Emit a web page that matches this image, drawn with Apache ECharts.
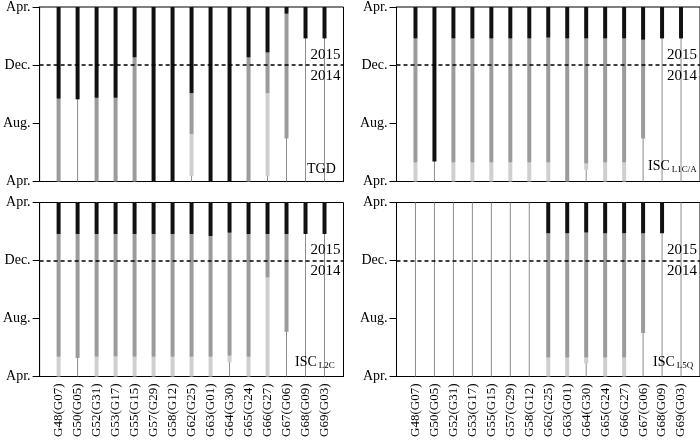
<!DOCTYPE html>
<html><head><meta charset="utf-8">
<script src="https://cdn.jsdelivr.net/npm/echarts@6/dist/echarts.min.js"></script>
<style>html,body{margin:0;padding:0;background:#fff}#c{width:700px;height:446px}</style>
</head><body><div id="c"></div>
<script>
// ---------- data ----------
const categories = ['G48(G07)','G50(G05)','G52(G31)','G53(G17)','G55(G15)','G57(G29)','G58(G12)','G62(G25)','G63(G01)','G64(G30)','G65(G24)','G66(G27)','G67(G06)','G68(G09)','G69(G03)'];
const yTickLabels = ['Apr.','Aug.','Dec.','Apr.'];   // months 0,4,8,12 counted from Apr. 2014
const yearBoundary = 8;      // Dec.
const yearLabels = ['2015','2014'];
const lifeline = [12,12,12,12,12,12,12,12,12,12,12,12,12,12,12];

// month (from Apr. 2014) where light / medium / black segments start; each bar ends at 12
const tgdLight  = [0, 5.65, 0, 0, 0, 0, 0, 0.39, 0, 0, 0, 0.39, 2.96, 9.84, 9.84];
const tgdMedium = [0, 5.65, 0, 0, 0, 0, 0, 3.27, 0, 0, 0, 6.08, 2.96, 9.84, 9.84];
const tgdBlack  = [5.70, 5.65, 5.76, 5.76, 8.54, 0, 0, 6.08, 0, 0, 8.54, 8.88, 11.54, 9.84, 9.84];

const l1Light  = [0, 1.37, 0, 0, 0, 0, 0, 0, 0, 0.8, 0, 0, 2.96, 9.84, 9.84];
const l1Medium = [1.32, 1.37, 1.32, 1.32, 1.32, 1.32, 1.32, 1.32, 0, 1.25, 1.32, 1.32, 2.96, 9.84, 9.84];
const l1Black  = [9.84, 1.37, 9.84, 9.84, 9.84, 9.84, 9.84, 9.9, 9.84, 9.84, 9.84, 9.84, 9.75, 9.84, 9.84];

const l2Light  = [0, 1.28, 0, 0, 0, 0, 0, 0, 0, 0.98, 0, 0, 3.08, 9.83, 9.83];
const l2Medium = [1.37, 1.28, 1.37, 1.4, 1.37, 1.37, 1.37, 1.37, 1.37, 1.44, 1.37, 6.84, 3.08, 9.83, 9.83];
const l2Black  = [9.83, 9.83, 9.83, 9.83, 9.83, 9.83, 9.83, 9.83, 9.69, 9.92, 9.83, 9.83, 9.83, 9.83, 9.83];

const l5Light  = [12, 12, 12, 12, 12, 12, 12, 0, 0, 0.9, 0, 0, 3.0, 9.88, 12];
const l5Medium = [12, 12, 12, 12, 12, 12, 12, 1.31, 1.31, 1.31, 1.31, 1.31, 3.0, 9.88, 12];
const l5Black  = [12, 12, 12, 12, 12, 12, 12, 9.88, 9.88, 9.93, 9.88, 9.88, 9.88, 9.88, 12];

// ---------- build ----------
const FONT = "'Liberation Serif','DejaVu Serif',serif";
const C_BLACK = '#111111', C_MED = '#9b9b9b', C_LIGHT = '#cfcfcf', C_THIN = '#8c8c8c';
const pad = arr => [null].concat(arr, [null]);
const axisCats = [''].concat(categories, ['']);

const panels = [
  {name:'{a|TGD}', light:tgdLight, medium:tgdMedium, black:tgdBlack, grid:{left:39.5, top:5.5, width:304, height:176}, labels:false, title:{left:307, top:161}},
  {name:'{a|ISC}{b|L1C/A}', light:l1Light, medium:l1Medium, black:l1Black, grid:{left:396.5, top:5.5, width:304, height:176}, labels:false, title:{left:648, top:158}},
  {name:'{a|ISC}{b|L2C}', light:l2Light, medium:l2Medium, black:l2Black, grid:{left:39.5, top:202.5, width:304, height:174}, labels:true, title:{left:295, top:354}},
  {name:'{a|ISC}{b|L5Q}', light:l5Light, medium:l5Medium, black:l5Black, grid:{left:396.5, top:202.5, width:304, height:174}, labels:true, title:{left:653, top:354}}
];

const grid = [], xAxis = [], yAxis = [], series = [], title = [];
panels.forEach((p, gi) => {
  grid.push(Object.assign({show:true, borderColor:'#000', borderWidth:1, backgroundColor:'#fff'}, p.grid));
  xAxis.push({
    gridIndex: gi, type:'category', data: axisCats, boundaryGap:false,
    axisLine:{show:true, lineStyle:{color:'#000', width:1}},
    axisTick:{show:false}, splitLine:{show:false},
    axisLabel:{show:p.labels, rotate:90, interval:0, margin:7, color:'#000', fontFamily:FONT, fontSize:13}
  });
  xAxis.push({gridIndex: gi, type:'category', data: axisCats, boundaryGap:false, show:false});
  yAxis.push({
    gridIndex: gi, type:'value', min:0, max:12, interval:4,
    axisLine:{show:true, lineStyle:{color:'#000', width:1}},
    axisTick:{show:true, length:7, lineStyle:{color:'#000'}},
    splitLine:{show:false},
    axisLabel:{margin:9, color:'#000', fontFamily:FONT, fontSize:14, formatter: v => yTickLabels[Math.round(v/4)]}
  });
  title.push({text:p.name, left:p.title.left, top:p.title.top, padding:0,
    textStyle:{fontFamily:FONT, fontWeight:'normal', color:'#000', rich:{
      a:{fontFamily:FONT, fontSize:14, color:'#000', lineHeight:16},
      b:{fontFamily:FONT, fontSize:9, color:'#000', lineHeight:9, verticalAlign:'bottom', padding:[0,0,0,2]}
    }}});
  const common = {type:'bar', xAxisIndex:2*gi, yAxisIndex:gi, stack:'s'+gi, barWidth:4, silent:true, z:3};
  series.push({type:'bar', xAxisIndex:2*gi+1, yAxisIndex:gi, barWidth:1, silent:true, z:2,
    data: pad(lifeline), itemStyle:{color:C_THIN}});
  series.push(Object.assign({}, common, {data: pad(p.light), itemStyle:{color:'rgba(0,0,0,0)'}}));
  series.push(Object.assign({}, common, {data: pad(p.light.map((a,i)=>+(p.medium[i]-a).toFixed(3))), itemStyle:{color:C_LIGHT}}));
  series.push(Object.assign({}, common, {data: pad(p.medium.map((b,i)=>+(p.black[i]-b).toFixed(3))), itemStyle:{color:C_MED}}));
  series.push(Object.assign({}, common, {data: pad(p.black.map(c=>+(12-c).toFixed(3))), itemStyle:{color:C_BLACK},
    markLine:{silent:true, symbol:'none', animation:false,
      lineStyle:{color:'#000', type:[4,3], width:1.5},
      label:{color:'#000', fontFamily:FONT, fontSize:15, distance:3},
      data:[
        {yAxis:yearBoundary, label:{show:true, formatter:yearLabels[0], position:'insideEndTop', color:'#000'}},
        {yAxis:yearBoundary, label:{show:true, formatter:yearLabels[1], position:'insideEndBottom', color:'#000'}, lineStyle:{color:'rgba(0,0,0,0)'}}
      ]}}));
});

const chart = echarts.init(document.getElementById('c'), null, {renderer:'canvas'});
chart.setOption({animation:false, backgroundColor:'#fff', title, grid, xAxis, yAxis, series});
</script>
</body></html>
